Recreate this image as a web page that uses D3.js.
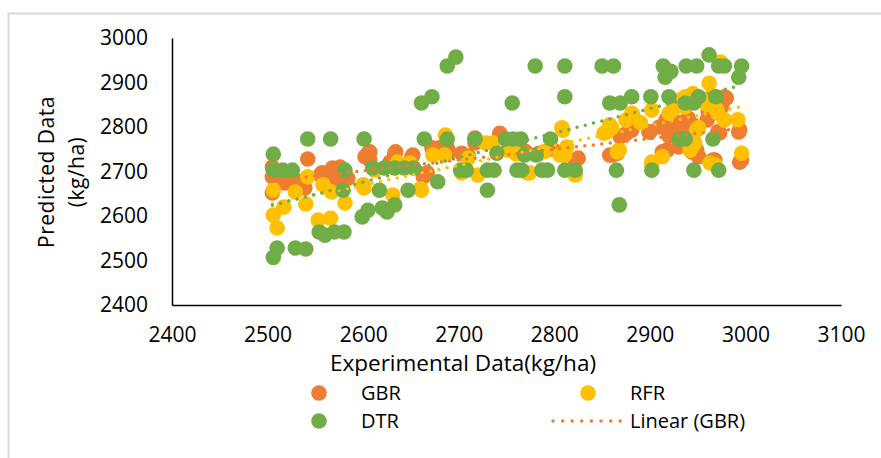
<!DOCTYPE html>
<html>
<head>
<meta charset="utf-8">
<script src="https://cdn.jsdelivr.net/npm/d3@7"></script>
<style>
  body { margin: 0; background: #fff; }
  text { font-family: "Open Sans", sans-serif; fill: #000; }
</style>
</head>
<body>
<div id="chart"></div>
<script>
// values: [experimental, predicted]
var gbrData = [
  [2505,2710],[2505,2688],[2505,2652],[2518,2674],[2525,2677],[2529,2681],[2539,2663],[2542,2728],
  [2555,2692],[2557,2697],[2566,2699],[2568,2708],[2568,2688],[2574,2681],[2576,2710],[2584,2685],
  [2602,2733],[2605,2741],[2607,2744],[2607,2726],[2628,2721],[2630,2719],[2634,2744],[2633,2741],
  [2651,2733],[2652,2737],[2663,2688],[2667,2697],[2672,2753],[2673,2748],[2680,2753],[2688,2753],
  [2690,2744],[2703,2741],[2710,2735],[2717,2775],[2717,2764],[2743,2782],[2743,2786],[2761,2755],
  [2770,2745],[2784,2741],[2798,2750],[2808,2744],[2822,2726],[2825,2730],[2858,2737],[2861,2737],
  [2866,2741],[2869,2778],[2875,2785],[2881,2798],[2881,2793],[2899,2789],[2900,2789],[2910,2800],
  [2913,2744],[2916,2805],[2917,2816],[2918,2748],[2920,2780],[2923,2798],[2925,2789],[2930,2810],
  [2930,2755],[2935,2770],[2937,2794],[2938,2800],[2940,2820],[2944,2744],[2945,2805],[2949,2748],
  [2951,2733],[2960,2816],[2961,2834],[2966,2726],[2968,2726],[2971,2789],[2973,2787],[2975,2845],
  [2978,2868],[2980,2865],[2993,2789],[2994,2793],[2994,2721],[2996,2726]
];
var rfrData = [
  [2506,2658],[2506,2602],[2510,2573],[2517,2620],[2529,2654],[2540,2627],[2542,2688],[2553,2591],
  [2558,2670],[2566,2595],[2567,2654],[2581,2629],[2600,2670],[2601,2663],[2612,2703],[2631,2647],
  [2636,2721],[2649,2719],[2660,2661],[2661,2658],[2673,2737],[2685,2737],[2686,2782],[2703,2697],
  [2710,2730],[2720,2692],[2728,2764],[2736,2764],[2752,2748],[2760,2740],[2772,2697],[2774,2697],
  [2790,2745],[2806,2737],[2808,2798],[2809,2793],[2811,2737],[2813,2755],[2822,2692],[2852,2786],
  [2855,2789],[2858,2805],[2860,2798],[2866,2744],[2868,2748],[2875,2815],[2881,2831],[2882,2827],
  [2890,2810],[2902,2838],[2902,2721],[2902,2715],[2913,2733],[2920,2831],[2924,2838],[2930,2860],
  [2937,2845],[2937,2868],[2942,2748],[2943,2771],[2944,2755],[2945,2875],[2947,2764],[2949,2793],
  [2951,2798],[2960,2850],[2962,2898],[2963,2719],[2965,2870],[2968,2715],[2970,2838],[2971,2831],
  [2974,2946],[2978,2816],[2992,2816],[2996,2741]
];
var dtrData = [
  [2506,2739],[2506,2703],[2516,2703],[2526,2703],[2542,2773],[2566,2773],[2601,2773],[2506,2507],
  [2510,2528],[2529,2528],[2540,2526],[2554,2564],[2560,2557],[2570,2564],[2580,2564],[2581,2703],
  [2579,2658],[2599,2598],[2605,2613],[2617,2658],[2620,2618],[2625,2609],[2633,2625],[2647,2658],
  [2610,2708],[2622,2708],[2633,2708],[2643,2708],[2653,2708],[2664,2773],[2661,2854],[2672,2868],
  [2688,2937],[2697,2957],[2688,2773],[2678,2677],[2702,2703],[2708,2703],[2717,2773],[2730,2658],
  [2730,2703],[2737,2703],[2740,2741],[2749,2773],[2757,2773],[2765,2773],[2756,2854],[2761,2703],
  [2766,2703],[2769,2737],[2781,2737],[2780,2937],[2787,2703],[2793,2703],[2796,2773],[2811,2937],
  [2811,2868],[2811,2703],[2822,2703],[2850,2937],[2862,2937],[2858,2854],[2869,2854],[2865,2703],
  [2868,2625],[2881,2868],[2901,2868],[2902,2703],[2914,2937],[2916,2912],[2922,2925],[2920,2868],
  [2931,2773],[2937,2773],[2937,2854],[2946,2854],[2938,2937],[2949,2937],[2946,2703],[2951,2868],
  [2962,2962],[2966,2773],[2969,2868],[2972,2937],[2978,2937],[2972,2703],[2993,2912],[2996,2937]
];

// trend lines as they appear in the picture (end points)
var trendGBR = [[2505,2679],[2996,2797]];
var trendRFR = [[2505,2627],[2996,2846]];
var trendDTR = [[2505,2624],[2996,2894]];

var xTicks = [2400,2500,2600,2700,2800,2900,3000,3100];
var yTicks = [2400,2500,2600,2700,2800,2900,3000];

var seriesNames = ['GBR','RFR','DTR'];
var legendLabels = ['GBR','RFR','DTR','Linear (GBR)'];

var colors = { GBR: '#ED7D31', RFR: '#FFC000', DTR: '#70AD47' };

var width = 881, height = 458;

var svg = d3.select('#chart').append('svg')
    .attr('width', width)
    .attr('height', height);

// chart frame (runs off the right and bottom edges)
svg.append('rect')
    .attr('x', 8.5).attr('y', 13.5)
    .attr('width', 900).attr('height', 470)
    .attr('fill', 'none')
    .attr('stroke', '#d9d9d9')
    .attr('stroke-width', 2);

var x = d3.scaleLinear().domain([2400, 3100]).range([172, 841]);
var y = d3.scaleLinear().domain([2400, 3000]).range([305, 38]);

var xAxis = d3.axisBottom(x).tickValues(xTicks).tickSize(0).tickPadding(22).tickFormat(d3.format('d'));
var yAxis = d3.axisLeft(y).tickValues(yTicks).tickSize(0).tickPadding(24).tickFormat(d3.format('d'));

var gx = svg.append('g').attr('transform', 'translate(0,305)').call(xAxis);
var gy = svg.append('g').attr('transform', 'translate(172,0)').call(yAxis);

[gx, gy].forEach(function(g) {
    g.select('.domain').attr('stroke', '#000').attr('stroke-width', 1.5);
    g.selectAll('text').style('font-size', '21px').attr('fill', '#000');
});

// points: GBR under RFR under DTR
var datasets = { GBR: gbrData, RFR: rfrData, DTR: dtrData };
seriesNames.forEach(function(name) {
    svg.append('g').selectAll('circle')
        .data(datasets[name])
        .enter().append('circle')
        .attr('cx', function(d) { return x(d[0]); })
        .attr('cy', function(d) { return y(d[1]); })
        .attr('r', 7.8)
        .attr('fill', colors[name]);
});

// dotted trend lines
var line = d3.line().x(function(d) { return x(d[0]); }).y(function(d) { return y(d[1]); });
[[trendGBR, 'GBR'], [trendRFR, 'RFR'], [trendDTR, 'DTR']].forEach(function(t) {
    svg.append('path')
        .attr('d', line(t[0]))
        .attr('fill', 'none')
        .attr('stroke', colors[t[1]])
        .attr('stroke-width', 3.5)
        .attr('stroke-linecap', 'round')
        .attr('stroke-dasharray', '0 8.5');
});

// axis titles
svg.append('text')
    .attr('x', 463).attr('y', 371)
    .attr('text-anchor', 'middle')
    .style('font-size', '22.5px')
    .text('Experimental Data(kg/ha)');

svg.append('text')
    .attr('transform', 'translate(54,172) rotate(-90)')
    .attr('text-anchor', 'middle')
    .style('font-size', '21px')
    .style('letter-spacing', '0.5px')
    .text('Predicted Data');

svg.append('text')
    .attr('transform', 'translate(84,172) rotate(-90)')
    .attr('text-anchor', 'middle')
    .style('font-size', '21px')
    .style('letter-spacing', '0.5px')
    .text('(kg/ha)');

// legend, two columns
var legendCols = [319, 588], legendRows = [393, 421];
var legend = svg.append('g').selectAll('g')
    .data(legendLabels)
    .enter().append('g')
    .attr('transform', function(d, i) {
        return 'translate(' + legendCols[i % 2] + ',' + legendRows[Math.floor(i / 2)] + ')';
    });

legend.each(function(d, i) {
    var g = d3.select(this);
    if (i < 3) {
        g.append('circle').attr('r', 7.8).attr('fill', colors[d]);
    } else {
        g.append('line')
            .attr('x1', -35).attr('x2', 35)
            .attr('stroke', colors.GBR)
            .attr('stroke-width', 3.5)
            .attr('stroke-linecap', 'round')
            .attr('stroke-dasharray', '0 9.6');
    }
    g.append('text')
        .attr('x', 42)
        .attr('y', 7)
        .style('font-size', '20px')
        .text(d);
});
</script>
</body>
</html>
